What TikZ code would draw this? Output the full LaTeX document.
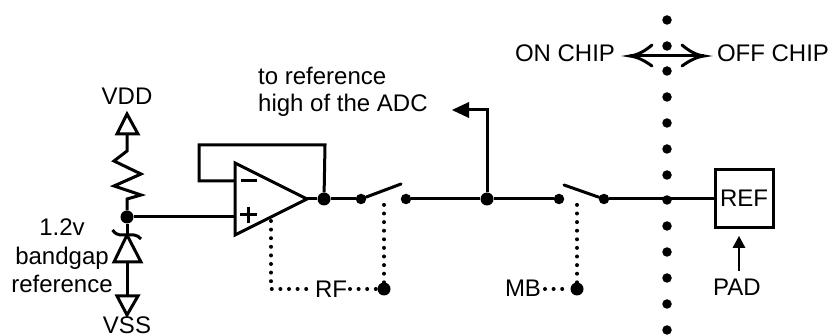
\documentclass[tikz,border=0pt]{standalone}
\usepackage{fontspec}
\setmainfont{Liberation Sans}
\begin{document}
\begin{tikzpicture}[x=1pt,y=-1pt,
  wire/.style={line width=3pt,line join=miter},
  ctl/.style={line width=4pt,line cap=round,dash pattern=on 0pt off 8.6pt},
  dotbig/.style={circle,fill=black,inner sep=0pt,minimum size=13pt},
  dotsmall/.style={circle,fill=black,inner sep=0pt,minimum size=10.5pt},
  dotbound/.style={circle,fill=black,inner sep=0pt,minimum size=9.5pt},
  lbl/.style={inner sep=0pt,anchor=base,font=\fontsize{24}{25}\selectfont},
  lbll/.style={lbl,anchor=base west}]
\useasboundingbox (0,0) rectangle (830,336);
% labels
\node[lbl] (vdd) at (127,105) {VDD};
\node[lbl] (vss) at (127,334) {VSS};
\node[lbl] (t12) at (62,236) {1.2v};
\node[lbl] (tbg) at (62,265) {bandgap};
\node[lbl] (tref) at (62,293) {reference};
\node[lbll] (tto) at (258,85) {to reference};
\node[lbll] (thigh) at (258,112) {high of the ADC};
\node[lbl] (ton) at (565,62) {ON CHIP};
\node[lbl] (toff) at (773,62) {OFF CHIP};
\node[lbl] (trf) at (331,298) {RF};
\node[lbl] (tmb) at (523,297) {MB};
\node[lbl] (tpad) at (737,296) {PAD};
% junction nodes
\node[dotbig] (j1) at (127,217) {};
\node[dotbig] (j2) at (324,199) {};
\node[dotsmall] (s1a) at (361,199) {};
\node[dotsmall] (s1b) at (406,199) {};
\node[dotbig] (j3) at (487,199) {};
\node[dotsmall] (s2a) at (559,199) {};
\node[dotsmall] (s2b) at (604,199) {};
\node[dotbig] (rf) at (384,289) {};
\node[dotbig] (mb) at (577,289) {};
\node[draw,line width=3pt,minimum size=58pt,inner sep=0pt] (ref) at (744.5,199) {};
\node[lbl] at (744,207) {REF};
% chip boundary
\foreach \y [count=\i] in {20,46,71,97,123,149,175,200,226,252,278,304,330}
  \node[dotbound] (b\i) at (667,\y) {};
% supply and reference branch
\coordinate (vt) at (127,114);
\coordinate (vb) at (127,134);
\draw[wire] (117,134) -- (vt) -- (138,134) -- cycle;
\draw[wire] (vb) -- (127,151) -- (114,161) -- (141,174) -- (114,186) -- (141,195) -- (127,199) -- (j1);
\coordinate (zt) at (127,235);
\coordinate (zb) at (127,262);
\draw[wire] (j1) -- (zt);
\draw[wire] (114,262) -- (zt) -- (141,262) -- cycle;
\draw[wire] (112.5,230) .. controls (115,233) and (117,235) .. (120,235) -- (134,235) .. controls (137,235) and (139,237) .. (141,239);
\coordinate (st) at (127,296);
\draw[wire] (zb) -- (st);
\draw[wire] (117,296) -- (127,315) -- (138,296) -- cycle;
% op amp
\coordinate (oa1) at (235,163);
\coordinate (oa2) at (235,235);
\coordinate (oao) at (307,199);
\coordinate (oam) at (235,181);
\coordinate (oap) at (235,217);
\draw[wire] (oa1) -- (oao) -- (oa2) -- cycle;
\draw[wire] (241,181) -- (257,181);
\draw[wire] (240,215) -- (257,215) (248.5,207) -- (248.5,223);
\draw[wire] (j1) -- (oap);
\draw[wire] (oam) -- (199,181) -- (199,145) -- (325,145) -- (j2);
\draw[wire] (oao) -- (j2) -- (s1a);
% switches and output
\draw[wire,line cap=round] (s1a) -- (401,184);
\draw[wire] (s1b) -- (j3) -- (s2a);
\draw[wire,line cap=round] (564,185) -- (s2b);
\draw[wire] (s2b) -- (ref);
% ADC branch
\coordinate (at) at (487,110);
\coordinate (atip) at (452,110);
\draw[wire] (j3) -- (at) -- (468,110);
\fill (atip) -- (469,102) -- (469,118) -- cycle;
% controls
\coordinate (c1) at (271,221);
\coordinate (c2) at (271,289);
\coordinate (c3) at (310,289);
\draw[ctl] (c1) -- (c2) -- (c3);
\draw[ctl] (350,289) -- (rf);
\draw[ctl] (rf) -- (384,198);
\draw[ctl] (545,289) -- (mb);
\draw[ctl] (mb) -- (577,198);
% on/off arrow
\coordinate (al) at (630,56);
\coordinate (ar) at (704,56);
\draw[wire] (al) -- (ar);
\draw[wire,line cap=round] (652,45) .. controls (645,51) and (638,55) .. (al) .. controls (638,57) and (645,61) .. (652,66);
\draw[wire,line cap=round] (682,45) .. controls (689,51) and (696,55) .. (ar) .. controls (696,57) and (689,61) .. (682,66);
% PAD arrow
\coordinate (pb) at (739,271);
\coordinate (pt) at (739,236);
\draw[line width=1.2pt] (pb) -- (739,247);
\fill (pt) -- (745.5,248) -- (732.5,248) -- cycle;
\end{tikzpicture}
\end{document}
